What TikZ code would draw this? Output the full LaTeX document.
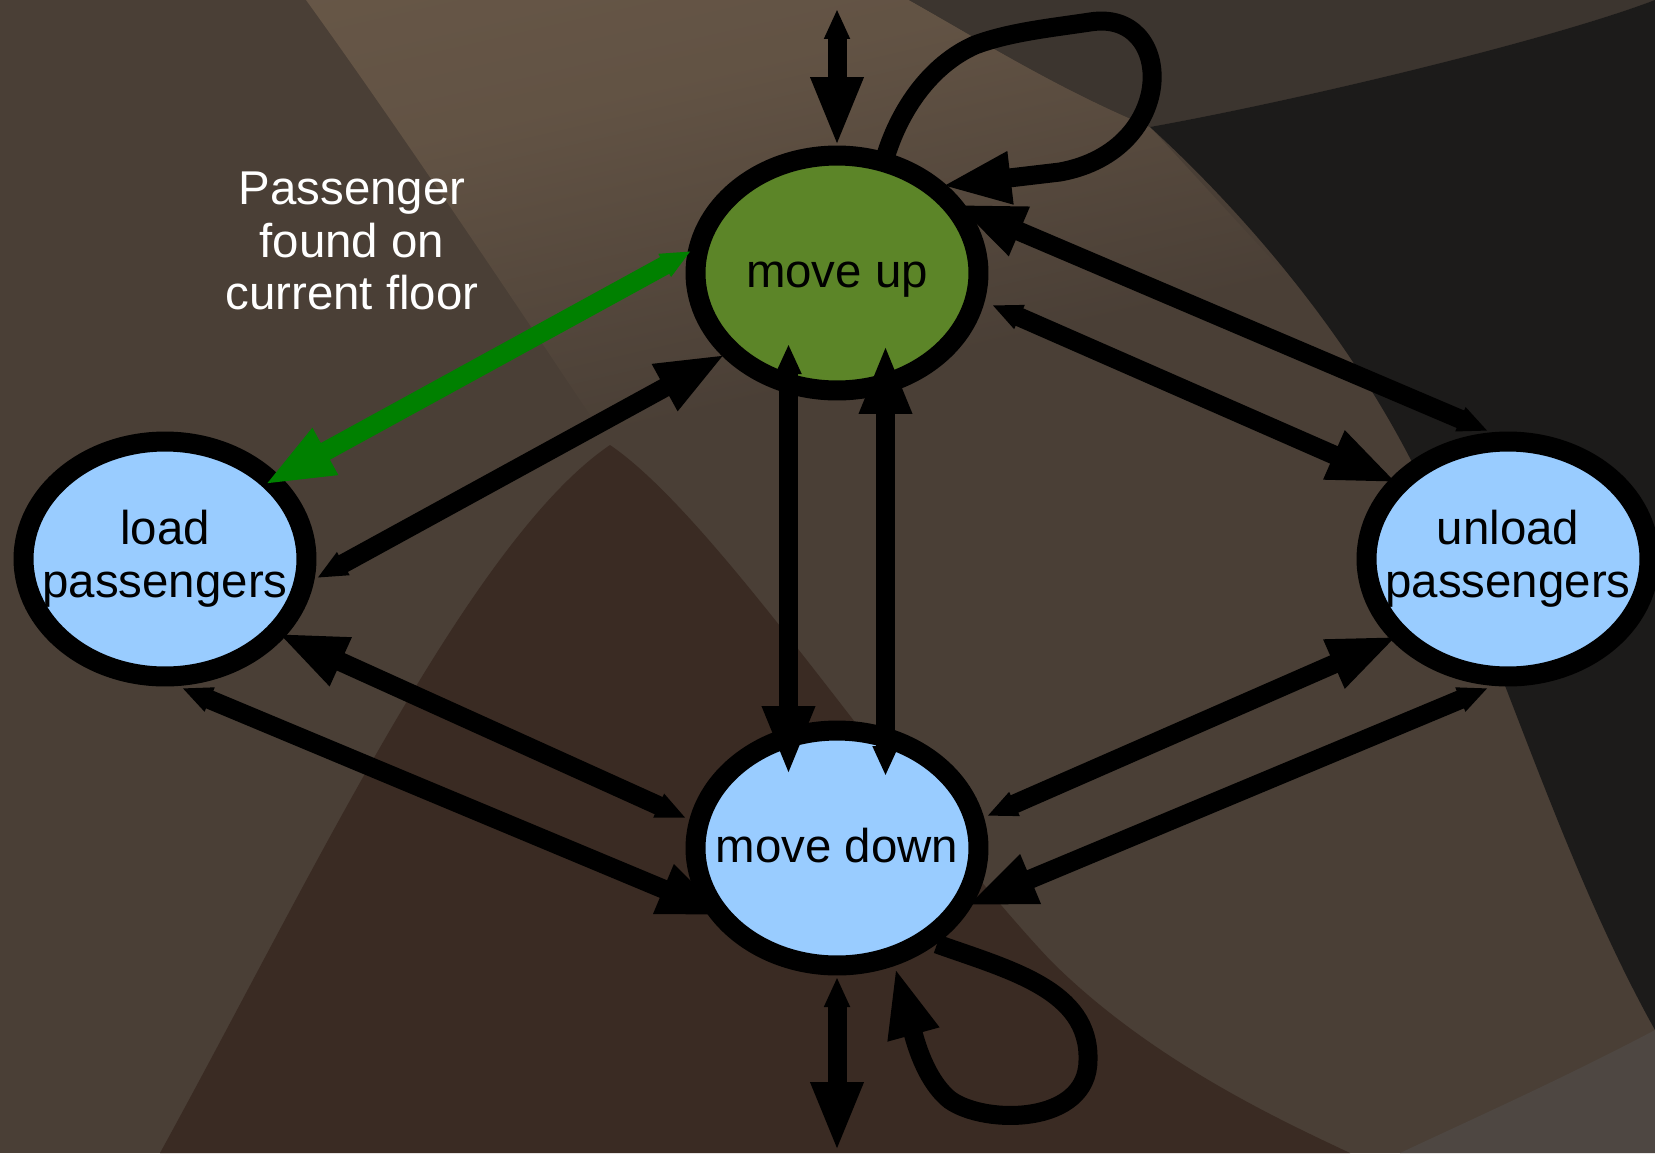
\documentclass[tikz,border=0pt]{standalone}
\usepackage{fontspec}
\setmainfont{Liberation Sans}
\usetikzlibrary{arrows.meta,calc,shapes.geometric}

% backdrop
\definecolor{bgbase}{RGB}{74,63,54}
\definecolor{bglight}{RGB}{108,91,74}
\definecolor{bgslate}{RGB}{60,53,47}
\definecolor{bgblack}{RGB}{28,27,26}
\definecolor{bgdark}{RGB}{58,43,35}
\definecolor{bgpale}{RGB}{78,71,66}
% states and arrows
\definecolor{stateblue}{RGB}{153,204,255}
\definecolor{stategreen}{RGB}{92,133,40}
\definecolor{hintgreen}{RGB}{0,128,0}

\pgfdeclareverticalshading{lightband}{100bp}{color(0bp)=(bgbase); color(35bp)=(bgbase); color(65bp)=(bglight!70!bgbase); color(100bp)=(bglight)}

\tikzset{
  state/.style={ellipse,draw=black,line width=0.4cm,fill=stateblue,
                inner xsep=-0.5cm,inner ysep=0pt,
                minimum width=5.66cm,minimum height=4.7cm,align=center,
                font=\fontsize{27}{30}\selectfont},
  oneline/.style={text height=22pt,text depth=6pt},
  trans/.style={line width=0.38cm,
                {Triangle[length=0.6cm,width=0.48cm]}-{Triangle[length=1.4cm,width=0.96cm]}},
  loop/.style={line width=0.38cm,-{Triangle[length=1.4cm,width=0.96cm]}},
  hint/.style={text=white,align=center,font=\fontsize{27}{30}\selectfont},
}

\begin{document}
\begin{tikzpicture}[x=0.02cm,y=-0.02cm]
  \useasboundingbox (0,0) rectangle (1655,1153);

  % background patches
  \fill[bgbase] (0,0) rectangle (1655,1153);
  \shade[shading=lightband,shading angle=13]
    (306,0) .. controls (400,130) and (520,310) .. (610,445)
    .. controls (850,390) and (1100,335) .. (1300,290)
    -- (1150,127) .. controls (1060,90) and (980,40) .. (909,0) -- cycle;
  \fill[bgslate] (909,0) .. controls (980,40) and (1060,90) .. (1150,127)
    .. controls (1300,100) and (1550,40) .. (1655,0) -- cycle;
  \fill[bgblack] (1150,127) .. controls (1300,100) and (1550,40) .. (1655,0)
    -- (1655,1030) .. controls (1560,860) and (1500,650) .. (1414,466)
    .. controls (1340,320) and (1230,200) .. (1150,127) -- cycle;
  \fill[bgpale] (1655,1030) .. controls (1560,1080) and (1470,1120) .. (1400,1153)
    -- (1655,1153) -- cycle;
  \fill[bgdark] (160,1153) .. controls (310,880) and (470,540) .. (610,445)
    .. controls (720,520) and (900,800) .. (1050,960)
    .. controls (1150,1060) and (1280,1120) .. (1350,1153) -- cycle;

  % states
  \node[state,fill=stategreen,oneline] (mu) at (837,273) {move up};
  \node[state,oneline] (md) at (837,848) {move down};
  \node[state] (load) at (165,559) {load\\passengers};
  \node[state] (unload) at (1508,559) {unload\\passengers};

  \node[hint] (found) at (352,241) {Passenger\\found on\\current floor};

  % entry and exit
  \coordinate (entry) at (837,9);
  \coordinate (exit) at (837,1152);
  \draw[trans] (entry) -- ($(mu)+(0,-126)$);
  \draw[trans] ($(md)+(0,129)$) -- (exit);

  % self loops
  \draw[loop] ($(mu)+(49,-118)$) .. controls (900,110) and (930,65) .. (975,45)
    .. controls (1010,32) and (1050,28) .. (1090,22)
    .. controls (1175,8) and (1180,150) .. (1060,172) -- ($(mu)+(104,-87)$);
  \draw[loop] ($(md)+(100,96)$) .. controls (1010,970) and (1090,990) .. (1088,1060)
    .. controls (1088,1125) and (985,1125) .. (950,1100)
    .. controls (925,1080) and (915,1040) .. ($(md)+(58,119)$);

  % up <-> down
  \draw[trans] ($(mu)+(-48.5,71)$) -- ($(md)+(-48.5,-72)$);
  \draw[trans] ($(md)+(48.5,-72)$) -- ($(mu)+(48.5,71)$);

  % left side
  \draw[trans] ($(load)+(152,19)$) -- ($(mu)+(-111,81)$);
  \draw[trans,hintgreen] ($(mu)+(-146,-22)$) -- ($(load)+(99,-74)$);
  \draw[trans] ($(md)+(-151,-30)$) -- ($(load)+(112,74)$);
  \draw[trans] ($(load)+(17,129)$) -- ($(md)+(-109,68)$);

  % right side
  \draw[trans] ($(mu)+(155,32)$) -- ($(unload)+(-110,-76)$);
  \draw[trans] ($(unload)+(-20,-128)$) -- ($(mu)+(118,-69)$);
  \draw[trans] ($(md)+(150,-32)$) -- ($(unload)+(-110,77)$);
  \draw[trans] ($(unload)+(-20,129)$) -- ($(md)+(129,58)$);
\end{tikzpicture}
\end{document}
